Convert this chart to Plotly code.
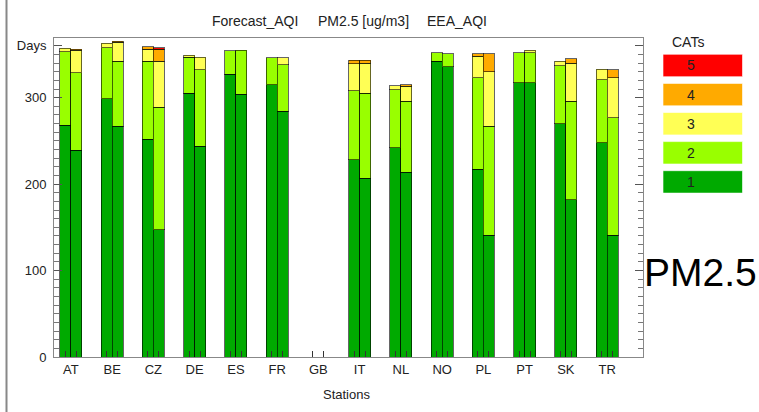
import plotly.graph_objects as go

# ---------------- data ----------------
stations = ["AT", "BE", "CZ", "DE", "ES", "FR", "GB", "IT", "NL", "NO", "PL", "PT", "SK", "TR"]
cat_labels = ["1", "2", "3", "4", "5"]

# Forecast_AQI (left bar of each pair): days per category
fc_cat1 = [268, 299, 252, 305, 327, 315, 0, 228, 242, 342, 217, 317, 270, 248]
fc_cat2 = [85, 59, 90, 42, 27, 31, 0, 80, 67, 10, 106, 35, 67, 73]
fc_cat3 = [4, 5, 14, 2, 0, 0, 0, 31, 5, 0, 25, 0, 5, 12]
fc_cat4 = [0, 0, 3, 0, 0, 0, 0, 4, 0, 0, 3, 0, 0, 0]
fc_cat5 = [0, 0, 0, 0, 0, 0, 0, 0, 0, 0, 0, 0, 0, 0]

# EEA_AQI (right bar of each pair)
eea_cat1 = [239, 267, 147, 244, 304, 284, 0, 207, 214, 336, 141, 317, 182, 141]
eea_cat2 = [90, 75, 142, 88, 51, 54, 0, 98, 82, 15, 126, 35, 114, 136]
eea_cat3 = [26, 22, 53, 15, 0, 8, 0, 35, 17, 0, 63, 3, 44, 46]
eea_cat4 = [1, 1, 14, 0, 0, 0, 0, 3, 2, 0, 21, 0, 5, 9]
eea_cat5 = [0, 0, 2, 0, 0, 0, 0, 0, 0, 0, 0, 0, 0, 0]

y_tickvals = [0, 100, 200, 300, 360]
y_ticktext = ["0", "100", "200", "300", "Days"]

# ---------------- style ----------------
colors = ["#00AA00", "#99FF00", "#FFFF55", "#FFAA00", "#FF0000"]
FONT = "Liberation Sans, Arial, sans-serif"
W, H = 759, 412
L, R, T, B = 54, 116, 38, 55
plot_w = W - L - R
plot_h = H - T - B

def px_x(px):
    return (px - L) / plot_w

def px_y(py):
    return (H - B - py) / plot_h

idx = list(range(len(stations)))
bar_w = 0.267
off = bar_w / 2

fig = go.Figure()
series = [
    (-1, [fc_cat1, fc_cat2, fc_cat3, fc_cat4, fc_cat5]),
    (1, [eea_cat1, eea_cat2, eea_cat3, eea_cat4, eea_cat5]),
]
for sign, cats in series:
    xs = [i + sign * off for i in idx]
    for k, vals in enumerate(cats):
        fig.add_trace(go.Bar(
            x=xs,
            y=[v if v else None for v in vals],
            width=bar_w,
            marker=dict(color=colors[k], line=dict(color="rgba(0,0,0,0.6)", width=1)),
            showlegend=False,
            hoverinfo="skip",
        ))

x_range = [-0.41, 13.87]
bar_centers = sorted([i - off for i in idx] + [i + off for i in idx])

fig.update_layout(
    width=W, height=H,
    margin=dict(l=L, r=R, t=T, b=B, pad=0),
    barmode="stack",
    paper_bgcolor="white",
    plot_bgcolor="white",
    font=dict(family=FONT, size=13, color="#222"),
    xaxis=dict(
        range=x_range, tickmode="array", tickvals=idx, ticktext=stations,
        ticks="", ticklabelstandoff=0,
        tickfont=dict(family=FONT, size=13, color="#222"),
        minor=dict(tickmode="array", tickvals=bar_centers, ticks="inside",
                   ticklen=6, tickcolor="#333", showgrid=False),
        showline=True, linecolor="#888", linewidth=1, mirror=True,
        showgrid=False, zeroline=False,
    ),
    yaxis=dict(
        range=[0, 369], tickmode="array", tickvals=y_tickvals, ticktext=y_ticktext,
        ticks="inside", ticklen=8, tickcolor="#555",
        showline=True, linecolor="#888", linewidth=1, mirror="allticks",
        showgrid=False, zeroline=False, ticklabelstandoff=4,
        tickfont=dict(family=FONT, size=13, color="#222"),
        minor=dict(tickmode="array", tickvals=list(range(0, 361, 10)),
                   ticks="inside", ticklen=5, tickcolor="#777", showgrid=False),
    ),
)

ann = []
shapes = []
# titles
for txt, cx in [("Forecast_AQI", 255), ("PM2.5 [ug/m3]", 363), ("EEA_AQI", 456.5)]:
    ann.append(dict(text=txt, x=px_x(cx), y=px_y(21), xref="paper", yref="paper",
                    showarrow=False, xanchor="center", yanchor="middle",
                    font=dict(family=FONT, size=14, color="#222")))
ann.append(dict(text="Stations", x=px_x(346), y=px_y(394), xref="paper", yref="paper",
                showarrow=False, xanchor="center", yanchor="middle",
                font=dict(family=FONT, size=13, color="#222")))
ann.append(dict(text="PM2.5", x=px_x(700), y=px_y(272), xref="paper", yref="paper",
                showarrow=False, xanchor="center", yanchor="middle",
                font=dict(family=FONT, size=39, color="black")))
# custom legend
ann.append(dict(text="CATs", x=px_x(688), y=px_y(42), xref="paper", yref="paper",
                showarrow=False, xanchor="center", yanchor="middle",
                font=dict(family=FONT, size=14, color="#222")))
for k in range(5, 0, -1):
    top = 54.3 + (5 - k) * 29.1
    shapes.append(dict(type="rect", xref="paper", yref="paper",
                       x0=px_x(663), x1=px_x(742.5), y0=px_y(top), y1=px_y(top + 22.4),
                       fillcolor=colors[k - 1], line=dict(color="rgba(255,255,255,0.6)", width=1)))
    ann.append(dict(text=cat_labels[k - 1], x=px_x(690.5), y=px_y(top + 11.2), xref="paper", yref="paper",
                    showarrow=False, xanchor="center", yanchor="middle",
                    font=dict(family=FONT, size=14, color="#222")))
# left frame line of the window
shapes.append(dict(type="line", xref="paper", yref="paper",
                   x0=px_x(6.5), x1=px_x(6.5), y0=px_y(0), y1=px_y(H),
                   line=dict(color="#888", width=2)))

fig.update_layout(annotations=ann, shapes=shapes)
fig.write_html("out.html")
